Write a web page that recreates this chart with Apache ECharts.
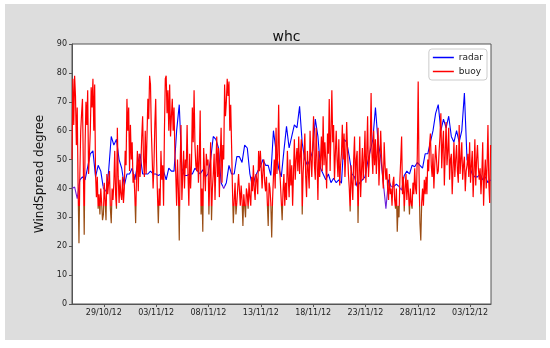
<!DOCTYPE html>
<html>
<head>
<meta charset="utf-8">
<script src="https://cdn.jsdelivr.net/npm/echarts@6/dist/echarts.min.js"></script>
<style>html,body{margin:0;padding:0;background:#fff}#c{width:550px;height:348px}</style>
</head>
<body>
<div id="c"></div>
<script>
// Time settings (UTC)
const startTime = Date.UTC(2012, 9, 25, 23, 0);   // 25/10/2012 23:00
const endTime = Date.UTC(2012, 11, 5, 0, 0);      // 05/12/2012 00:00
const buoyStepHours = 2;
const radarStepHours = 6;

const tickLabels = ['29/10/12', '03/11/12', '08/11/12', '13/11/12', '18/11/12', '23/11/12', '28/11/12', '03/12/12'];

const radar = [
  40, 40.5, 36.5, 43,  44, 43, 47.5, 52,  53, 44, 48, 46,  40, 39, 46, 58,
  55, 57, 50, 47,  41, 45, 45, 47,  43, 48, 52, 45,  45, 45, 46, 45,
  45, 44.5, 45, 46,  43, 47, 46, 46,  60, 69, 47, 44.5,  44.5, 45, 45, 47,
  46, 45, 46.5, 44,  45, 50, 58, 57,  54, 42, 40, 42,  48, 45, 45, 51,
  51, 49, 55, 54,  45, 40.5, 44, 46,  47.5, 50, 48, 48,  44.5, 60, 53, 47,
  44, 53, 61.5, 54,  58, 62, 61, 68.4,  55.7, 50, 48, 50,  53, 64, 58, 47,
  45, 43, 45, 42,  43.5, 42, 43, 41.8,  57, 56, 51, 45,  44, 40.6, 42, 43,
  44, 49, 53, 57,  68, 56, 51, 42,  33, 43, 40.6, 40.6,  41.5, 40.6, 39.4, 44.5,
  46, 45, 48, 47.5,  49, 48, 47, 52,  52, 56, 60, 66,  69, 60, 64, 61,
  65, 58, 56, 60,  56, 60, 73, 50,  47.6, 45, 44, 44,  45, 43, 44, 42,
  43
];

const buoy = [
  50, 78, 62, 79, 72, 55, 68, 40, 21, 45, 60, 66,
  71, 48, 24, 55, 70, 62, 74, 45, 52, 60, 75, 68,
  78, 60, 76, 45, 37, 44, 33, 38, 31, 40, 35, 29,
  31, 42, 36, 29, 45, 38, 42, 46, 33, 28, 40, 36,
  42, 53, 38, 33, 61, 44, 35, 43, 38, 36, 44, 35,
  40, 53, 48, 71, 60, 68, 46, 62, 50, 56, 42, 45,
  38, 28, 45, 53, 39, 52, 44, 49, 58, 65, 50, 44,
  60, 45, 58, 71, 64, 79, 76, 60, 50, 40, 48, 62,
  71, 50, 38, 28, 40, 34, 53, 43, 48, 34, 60, 78,
  79, 66, 74, 60, 76, 58, 65, 71, 60, 68, 52, 45,
  34, 50, 40, 22, 48, 62, 36, 45, 53, 40, 50, 47,
  62, 45, 34, 52, 40, 48, 68, 56, 74, 55, 48, 46,
  55, 42, 50, 67, 31, 40, 25, 54, 46, 39, 52, 48,
  50, 31, 44, 56, 29, 40, 45, 52, 36, 48, 58, 44,
  54, 37, 50, 61, 42, 55, 50, 76, 65, 70, 78, 72,
  77, 60, 69, 55, 40, 28, 36, 42, 31, 35, 40, 45,
  45, 34, 41, 36, 27, 38, 34, 30, 40, 38, 33, 42,
  37, 34, 44, 39, 48, 40, 36, 45, 43, 38, 53, 46,
  53, 47, 40, 46, 50, 42, 39, 44, 35, 27, 42, 40,
  35, 23, 36, 44, 50, 40, 61, 45, 52, 69, 48, 42,
  42, 29, 39, 45, 34, 42, 36, 53, 44, 37, 50, 41,
  48, 34, 45, 57, 43, 50, 54, 46, 58, 45, 52, 57,
  31, 45, 51, 59, 44, 37, 53, 46, 40, 60, 50, 44,
  55, 65, 48, 43, 61, 50, 36, 53, 44, 50, 58, 46,
  65, 48, 56, 50, 40, 59, 52, 71, 46, 60, 74, 56,
  62, 43, 52, 60, 50, 44, 57, 41, 48, 52, 62, 50,
  59, 44, 52, 63, 53, 45, 40, 32, 48, 42, 36, 50,
  58, 41, 50, 53, 28, 44, 58, 37, 46, 54, 43, 50,
  60, 42, 52, 65, 44, 50, 55, 73, 52, 45, 60, 48,
  57, 45, 52, 61, 41, 50, 60, 51, 45, 40, 56, 48,
  43, 47, 40, 36, 45, 38, 40, 34, 42, 44, 36, 33,
  40, 25, 34, 30, 43, 50, 58, 38, 44, 32, 40, 45,
  36, 43, 38, 31, 40, 35, 33, 42, 38, 47, 40, 38,
  52, 77, 45, 28, 22, 35, 40, 34, 43, 38, 44, 38,
  50, 46, 55, 59, 48, 44, 52, 40, 48, 55, 50, 45,
  46, 53, 58, 66, 47, 55, 60, 41, 52, 63, 48, 53,
  61, 43, 50, 52, 38, 47, 56, 44, 50, 55, 46, 42,
  62, 45, 50, 56, 43, 48, 51, 39, 46, 48, 52, 44,
  56, 42, 48, 53, 37, 46, 57, 41, 50, 55, 47, 43,
  47, 38, 45, 56, 34, 44, 50, 40, 48, 62, 42, 35,
  55
];

const HOUR = 3600 * 1000;
function parseLabel(s) {
  const p = s.split('/');
  return Date.UTC(2000 + (+p[2]), (+p[1]) - 1, +p[0]);
}
function fmt(v) {
  const d = new Date(v);
  const dd = String(d.getUTCDate()).padStart(2, '0');
  const mm = String(d.getUTCMonth() + 1).padStart(2, '0');
  const yy = String(d.getUTCFullYear() % 100).padStart(2, '0');
  return dd + '/' + mm + '/' + yy;
}
const tickValues = tickLabels.map(parseLabel);
const radarData = radar.map((v, i) => [startTime + i * radarStepHours * HOUR, v]);
const buoyData = buoy.map((v, i) => [startTime + i * buoyStepHours * HOUR, v]);

const FONT = 'DejaVu Sans';
const chart = echarts.init(document.getElementById('c'), null, {renderer: 'canvas'});
chart.setOption({
  animation: false,
  backgroundColor: '#ffffff',
  color: ['#0000ff', '#ff0000'],
  graphic: [{
    type: 'rect', z: -100, silent: true,
    shape: {x: 5, y: 4, width: 541, height: 336},
    style: {fill: '#dddddd'}
  }],
  title: {
    text: 'whc', left: 281.5, top: 25, textAlign: 'center',
    textStyle: {fontFamily: FONT, fontSize: 14, fontWeight: 'normal', color: '#111'}
  },
  grid: {
    left: 72, right: 59, top: 44, bottom: 44,
    show: true, backgroundColor: '#ffffff', borderColor: '#555', borderWidth: 1
  },
  legend: {
    right: 63, top: 49, orient: 'vertical',
    backgroundColor: '#ffffff', borderColor: '#cccccc', borderWidth: 1, borderRadius: 3,
    padding: [4, 4, 4, 4], itemGap: 5, itemWidth: 21, itemHeight: 1.5, icon: 'rect',
    textStyle: {fontFamily: FONT, fontSize: 9, color: '#222'},
    data: [
      {name: 'radar', itemStyle: {color: '#0000ff'}},
      {name: 'buoy', itemStyle: {color: '#ff0000'}}
    ]
  },
  visualMap: [
    {type: 'piecewise', show: false, seriesIndex: 0, dimension: 1,
     pieces: [{gte: 0, lt: 41, color: '#6a20d8'}, {gte: 41, lte: 100, color: '#0000ff'}]},
    {type: 'piecewise', show: false, seriesIndex: 1, dimension: 1,
     pieces: [{gte: 0, lt: 34, color: '#9a4d14'}, {gte: 34, lte: 100, color: '#ff0000'}]}
  ],
  xAxis: {
    type: 'value', min: startTime, max: endTime,
    axisLine: {show: true, lineStyle: {color: '#555', width: 1}},
    axisTick: {show: true, inside: false, length: 3, customValues: tickValues, lineStyle: {color: '#555'}},
    axisLabel: {customValues: tickValues, formatter: fmt, fontFamily: FONT, fontSize: 8, color: '#222', margin: 5},
    splitLine: {show: false}
  },
  yAxis: {
    type: 'value', min: 0, max: 90, interval: 10,
    name: 'WindSpread degree', nameLocation: 'middle', nameGap: 22,
    nameTextStyle: {fontFamily: FONT, fontSize: 12, color: '#111'},
    axisLine: {show: true, lineStyle: {color: '#555', width: 1}},
    axisTick: {show: true, inside: false, length: 3, lineStyle: {color: '#555'}},
    axisLabel: {fontFamily: FONT, fontSize: 8, color: '#222', margin: 5},
    splitLine: {show: false}
  },
  series: [
    {name: 'radar', type: 'line', data: radarData, showSymbol: false, symbol: 'none',
     lineStyle: {width: 1.1}, z: 2},
    {name: 'buoy', type: 'line', data: buoyData, showSymbol: false, symbol: 'none',
     lineStyle: {width: 1.2}, z: 3}
  ]
});
</script>
</body>
</html>
